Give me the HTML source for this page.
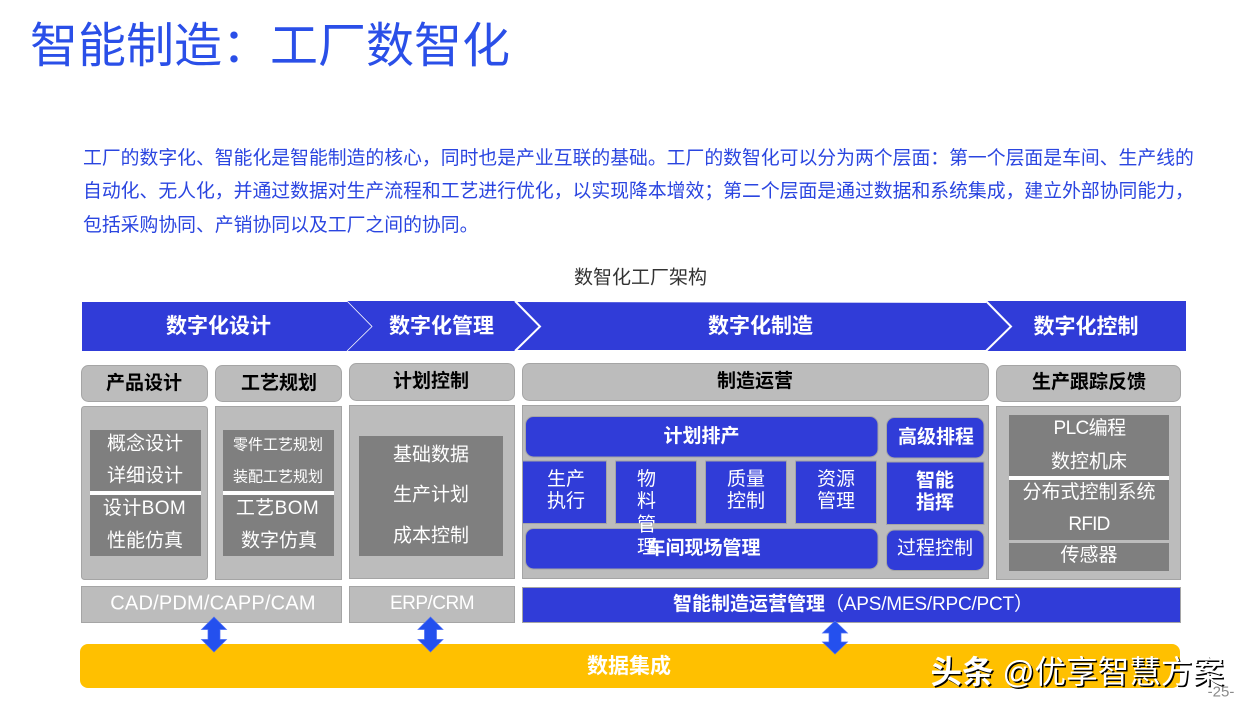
<!DOCTYPE html>
<html lang="zh"><head><meta charset="utf-8"><style>
html,body{margin:0;padding:0;background:#fff;width:1246px;height:711px;overflow:hidden}
svg{display:block}
text{font-family:"Liberation Sans","Noto Sans CJK SC",sans-serif;dominant-baseline:central;text-anchor:middle;transform:translateY(1.2px)}
.b{font-weight:700}
.w{fill:#fff;font-size:19px}
.h{fill:#000;font-size:19px;font-weight:700}
.bn{fill:#fff;font-size:21px;font-weight:700}
.p{font-size:18.83px;fill:#2a45e0;text-anchor:start}
.g{fill:#bcbcbc;stroke:#a5a5a5;stroke-width:1}
.d{fill:#7f7f7f}
.n{fill:#303cd8}
.nb{fill:#303cd8;stroke:#a5a5a5;stroke-width:1}
</style></head><body>
<svg width="1246" height="711" viewBox="0 0 1246 711" xmlns="http://www.w3.org/2000/svg">
<text x="30" y="45.5" style="text-anchor:start;font-size:48px;fill:#2a4fe8">智能制造：工厂数智化</text>
<text class="p" x="83" y="156.5">工厂的数字化、智能化是智能制造的核心，同时也是产业互联的基础。工厂的数智化可以分为两个层面：第一个层面是车间、生产线的</text>
<text class="p" x="83" y="189.5">自动化、无人化，并通过数据对生产流程和工艺进行优化，以实现降本增效；第二个层面是通过数据和系统集成，建立外部协同能力，</text>
<text class="p" x="83" y="223.5">包括采购协同、产销协同以及工厂之间的协同。</text>
<text x="640.5" y="277" style="font-size:19px;fill:#333">数智化工厂架构</text>

<!-- banner -->
<rect class="n" x="82" y="302" width="268" height="49"/>
<polygon class="n" points="347,301 515,301 515,351 347,351 372,326"/>
<polygon class="n" points="347,301 372,326.5 347,351 347,302"/>
<polygon class="n" points="514,302 986,303 986,350 514,350"/>
<polygon class="n" points="986,301 1186,301 1186,351 986,351"/>
<polyline points="347,301 372,326.5 347,351" fill="none" stroke="#fff" stroke-width="0.8"/>
<polyline points="515,301 540,326.5 515,351" fill="none" stroke="#fff" stroke-width="2"/>
<polyline points="986,301 1011,326.5 986,351" fill="none" stroke="#fff" stroke-width="2"/>
<rect x="82" y="300" width="1104" height="1" fill="#fff"/>
<text class="bn" x="218.5" y="325.5">数字化设计</text>
<text class="bn" x="441.5" y="325.5">数字化管理</text>
<text class="bn" x="760.5" y="325.5">数字化制造</text>
<text class="bn" x="1086" y="326">数字化控制</text>

<!-- headers -->
<rect class="g" x="81.5" y="365.5" width="126" height="36" rx="7"/>
<rect class="g" x="215.5" y="365.5" width="126" height="36" rx="7"/>
<rect class="g" x="349.5" y="363.5" width="165" height="37" rx="7"/>
<rect class="g" x="522.5" y="363.5" width="466" height="37" rx="7"/>
<rect class="g" x="996.5" y="365.5" width="184" height="36" rx="7"/>
<text class="h" x="144" y="382.5">产品设计</text>
<text class="h" x="279" y="382.5">工艺规划</text>
<text class="h" x="431" y="380.5">计划控制</text>
<text class="h" x="755" y="380.5">制造运营</text>
<text class="h" x="1089" y="381.5">生产跟踪反馈</text>

<!-- panels -->
<rect class="g" x="81.5" y="406.5" width="126" height="173" rx="3"/>
<rect class="g" x="215.5" y="406.5" width="126" height="173"/>
<rect class="g" x="349.5" y="405.5" width="165" height="173"/>
<rect class="g" x="522.5" y="405.5" width="466" height="173"/>
<rect class="g" x="996.5" y="406.5" width="184" height="173"/>

<!-- dark boxes -->
<rect class="d" x="90" y="430" width="111" height="126"/><rect x="90" y="491" width="111" height="4" fill="#fff"/>
<rect class="d" x="223" y="430" width="111" height="126"/><rect x="223" y="491" width="111" height="4" fill="#fff"/>
<rect class="d" x="359" y="436" width="144" height="120"/>
<rect class="d" x="1009" y="415" width="160" height="125"/><rect x="1009" y="476" width="160" height="4" fill="#fff"/>
<rect class="d" x="1009" y="543" width="160" height="28"/>

<text class="w" x="145" y="443">概念设计</text>
<text class="w" x="145" y="475">详细设计</text>
<text class="w" x="144.5" y="507.5" style="letter-spacing:.4px">设计BOM</text>
<text class="w" x="145" y="540">性能仿真</text>
<text class="w" x="278" y="444" style="font-size:15px">零件工艺规划</text>
<text class="w" x="278" y="476" style="font-size:15px">装配工艺规划</text>
<text class="w" x="277.5" y="507.5" style="letter-spacing:.4px">工艺BOM</text>
<text class="w" x="279" y="540">数字仿真</text>
<text class="w" x="431" y="454">基础数据</text>
<text class="w" x="431" y="494">生产计划</text>
<text class="w" x="431" y="535">成本控制</text>
<text class="w" x="1089.5" y="427.5" style="letter-spacing:-.6px">PLC编程</text>
<text class="w" x="1089" y="461">数控机床</text>
<text class="w" x="1089" y="491.5">分布式控制系统</text>
<text class="w" x="1089" y="523.5" style="letter-spacing:-.8px">RFID</text>
<text class="w" x="1089" y="554.5">传感器</text>

<!-- manufacturing -->
<rect class="nb" x="525.5" y="416.5" width="352.5" height="40.5" rx="8"/>
<rect class="nb" x="886.5" y="417.5" width="97.5" height="40.5" rx="8"/>
<rect class="nb" x="522.5" y="461" width="84" height="62.5"/>
<rect class="nb" x="615.5" y="461" width="81" height="62.5"/>
<rect class="nb" x="705.5" y="461" width="81" height="62.5"/>
<rect class="nb" x="795.5" y="461" width="81" height="62.5"/>
<rect class="nb" x="886.5" y="462" width="97.5" height="62.5"/>
<rect class="nb" x="525.5" y="528.5" width="352.5" height="40.5" rx="8"/>
<rect class="nb" x="886.5" y="530" width="97.5" height="40.5" rx="8"/>

<text class="w b" x="701.5" y="435.5">计划排产</text>
<text class="w b" x="936" y="436.5">高级排程</text>
<text class="w" x="566" y="478.5">生产</text><text class="w" x="566" y="500.5">执行</text>
<text class="w" x="646.5" y="478.5">物</text><text class="w" x="646.5" y="500.5">料</text><text class="w" x="646.5" y="524">管</text><text class="w" x="646.5" y="546.5">理</text>
<text class="w" x="746" y="478.5">质量</text><text class="w" x="746" y="500.5">控制</text>
<text class="w" x="836" y="478.5">资源</text><text class="w" x="836" y="500.5">管理</text>
<text class="w b" x="935" y="480">智能</text><text class="w b" x="935" y="502">指挥</text>
<text class="w b" x="703.5" y="547.5">车间现场管理</text>
<text class="w" x="935" y="547.5">过程控制</text>

<!-- systems -->
<rect class="g" x="81.5" y="586.5" width="260" height="36"/>
<rect class="g" x="349.5" y="586.5" width="165" height="36"/>
<rect class="nb" x="522.5" y="587.5" width="658" height="35"/>
<text class="w" x="213" y="602.5" style="font-size:20px;letter-spacing:.2px">CAD/PDM/CAPP/CAM</text>
<text class="w" x="432" y="602.5" style="letter-spacing:-.5px">ERP/CRM</text>
<text class="w b" x="749" y="603.5">智能制造运营管理</text>
<text class="w" x="825" y="603.5" style="text-anchor:start;letter-spacing:-.2px">（APS/MES/RPC/PCT）</text>

<!-- data bar -->
<rect x="80" y="644" width="1100" height="44" rx="8" fill="#ffc000"/>
<text x="629" y="665.5" style="font-size:21px;font-weight:700;fill:#fff">数据集成</text>

<!-- arrows -->
<g fill="#2450ee" stroke="#4a6cf5" stroke-width="0.7">
<polygon points="214,617 226.5,629.5 220,629.5 220,639.5 226.5,639.5 214,652 201.5,639.5 208,639.5 208,629.5 201.5,629.5"/>
<polygon points="430.5,617 443,629.5 436.5,629.5 436.5,639.5 443,639.5 430.5,652 418,639.5 424.5,639.5 424.5,629.5 418,629.5"/>
<polygon points="835,621 847.5,633 841,633 841,642 847.5,642 835,654 822.5,642 829,642 829,633 822.5,633"/>
</g>

<!-- watermark -->
<g style="font-size:31.6px">
<text x="932" y="672.5" style="text-anchor:start;fill:#000"><tspan font-weight="700">头条</tspan> @优享智慧方案</text>
<text x="930.5" y="671" style="text-anchor:start;fill:#fff"><tspan font-weight="700">头条</tspan> @优享智慧方案</text>
</g>
<text x="1221" y="691" style="font-size:15px;fill:#8a8a8a">-25-</text>
</svg>
</body></html>
